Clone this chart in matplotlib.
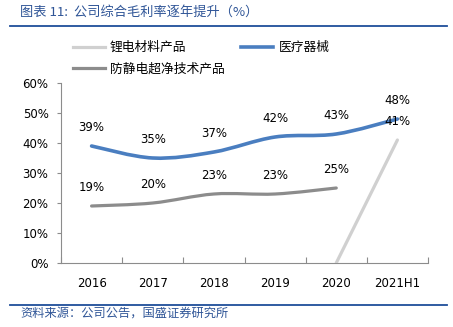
import numpy as np
import matplotlib
matplotlib.use("Agg")
import matplotlib.pyplot as plt
from matplotlib.path import Path
from matplotlib.patches import PathPatch
from matplotlib.lines import Line2D

plt.rcParams['font.family'] = ['DejaVu Sans', 'Noto Sans CJK SC']

categories = ['2016', '2017', '2018', '2019', '2020', '2021H1']
lithium = [np.nan, np.nan, np.nan, np.nan, 0, 41]
medical = [39, 35, 37, 42, 43, 48]
antistatic = [19, 20, 23, 23, 25, np.nan]
series_names = ['锂电材料产品', '医疗器械', '防静电超净技术产品']
title_text = '图表 11:  公司综合毛利率逐年提升（%）'
source_text = '资料来源：公司公告，国盛证券研究所'

colors = {'lithium': '#D0D0D0', 'medical': '#4A7EC0', 'antistatic': '#8C8C8C'}

fig = plt.figure(figsize=(4.53, 3.27), dpi=100)
ax = fig.add_axes([61/453, 1-263/327, 367/453, 180/327])

def smooth_path(xs, ys):
    pts = [(x, y) for x, y in zip(xs, ys) if not np.isnan(y)]
    pts = np.array(pts, dtype=float)
    verts = [tuple(pts[0])]
    codes = [Path.MOVETO]
    n = len(pts)
    for i in range(n - 1):
        p0 = pts[i - 1] if i > 0 else pts[i]
        p1 = pts[i]
        p2 = pts[i + 1]
        p3 = pts[i + 2] if i + 2 < n else pts[i + 1]
        c1 = p1 + (p2 - p0) / 6.0
        c2 = p2 - (p3 - p1) / 6.0
        verts += [tuple(c1), tuple(c2), tuple(p2)]
        codes += [Path.CURVE4] * 3
    return Path(verts, codes)

x = np.arange(len(categories))
specs = [(lithium, colors['lithium'], 2.3),
         (medical, colors['medical'], 2.6),
         (antistatic, colors['antistatic'], 2.3)]
for vals, c, lw in specs:
    p = smooth_path(x, np.array(vals, dtype=float))
    ax.add_patch(PathPatch(p, facecolor='none', edgecolor=c, lw=lw,
                           capstyle='round', joinstyle='round', zorder=3))
    for xi, v in zip(x, vals):
        if not np.isnan(v) and v != 0:
            ax.annotate(f'{v:.0f}%', (xi, v), xytext=(0, 13),
                        textcoords='offset points', ha='center', va='center',
                        fontsize=8.5, color='#000000', zorder=4)

ax.set_xlim(-0.5, len(categories) - 0.5)
ax.set_ylim(0, 60)
ax.set_yticks(np.arange(0, 61, 10))
ax.set_yticklabels([f'{v}%' for v in range(0, 61, 10)], fontsize=8.5)
ax.set_xticks(x)
ax.set_xticklabels(categories, fontsize=8.5)
ax.set_xticks(np.arange(-0.5, len(categories), 1), minor=True)
ax.tick_params(axis='x', which='major', length=0, pad=10)
ax.tick_params(axis='x', which='minor', direction='in', length=4, color='#8C8C8C', width=0.8)
ax.tick_params(axis='y', which='major', direction='out', length=3, color='#8C8C8C', width=0.8, pad=6)
for s in ['top', 'right']:
    ax.spines[s].set_visible(False)
for s in ['left', 'bottom']:
    ax.spines[s].set_color('#8C8C8C')
    ax.spines[s].set_linewidth(0.8)

handles = [Line2D([], [], color=colors['lithium'], lw=2.3),
           Line2D([], [], color=colors['antistatic'], lw=2.3),
           Line2D([], [], color=colors['medical'], lw=2.6)]
labels = [series_names[0], series_names[2], series_names[1]]
fig.legend(handles, labels, ncol=2, loc='upper left',
           bbox_to_anchor=(73/453, 1-41/327), frameon=False,
           prop={'family': 'Noto Sans CJK SC', 'size': 9.2},
           handlelength=2.5, handletextpad=0.4, columnspacing=1.3,
           labelspacing=0.65, borderpad=0, borderaxespad=0)

fig.text(20/453, 1-12/327, title_text, fontsize=9.5, color='#2F5597',
         family=['Noto Sans CJK SC', 'DejaVu Sans'], style='italic',
         ha='left', va='center')
fig.add_artist(Line2D([10/453, 447/453], [1-26/327, 1-26/327], color='#1F4E9A', lw=1.3))
fig.add_artist(Line2D([10/453, 447/453], [1-305/327, 1-305/327], color='#1F4E9A', lw=1.3))
fig.text(20/453, 1-313/327, source_text, fontsize=8.8, color='#2F5597',
         family=['Noto Sans CJK SC', 'DejaVu Sans'], style='italic',
         ha='left', va='center')

fig.savefig('out.png', dpi=100)
